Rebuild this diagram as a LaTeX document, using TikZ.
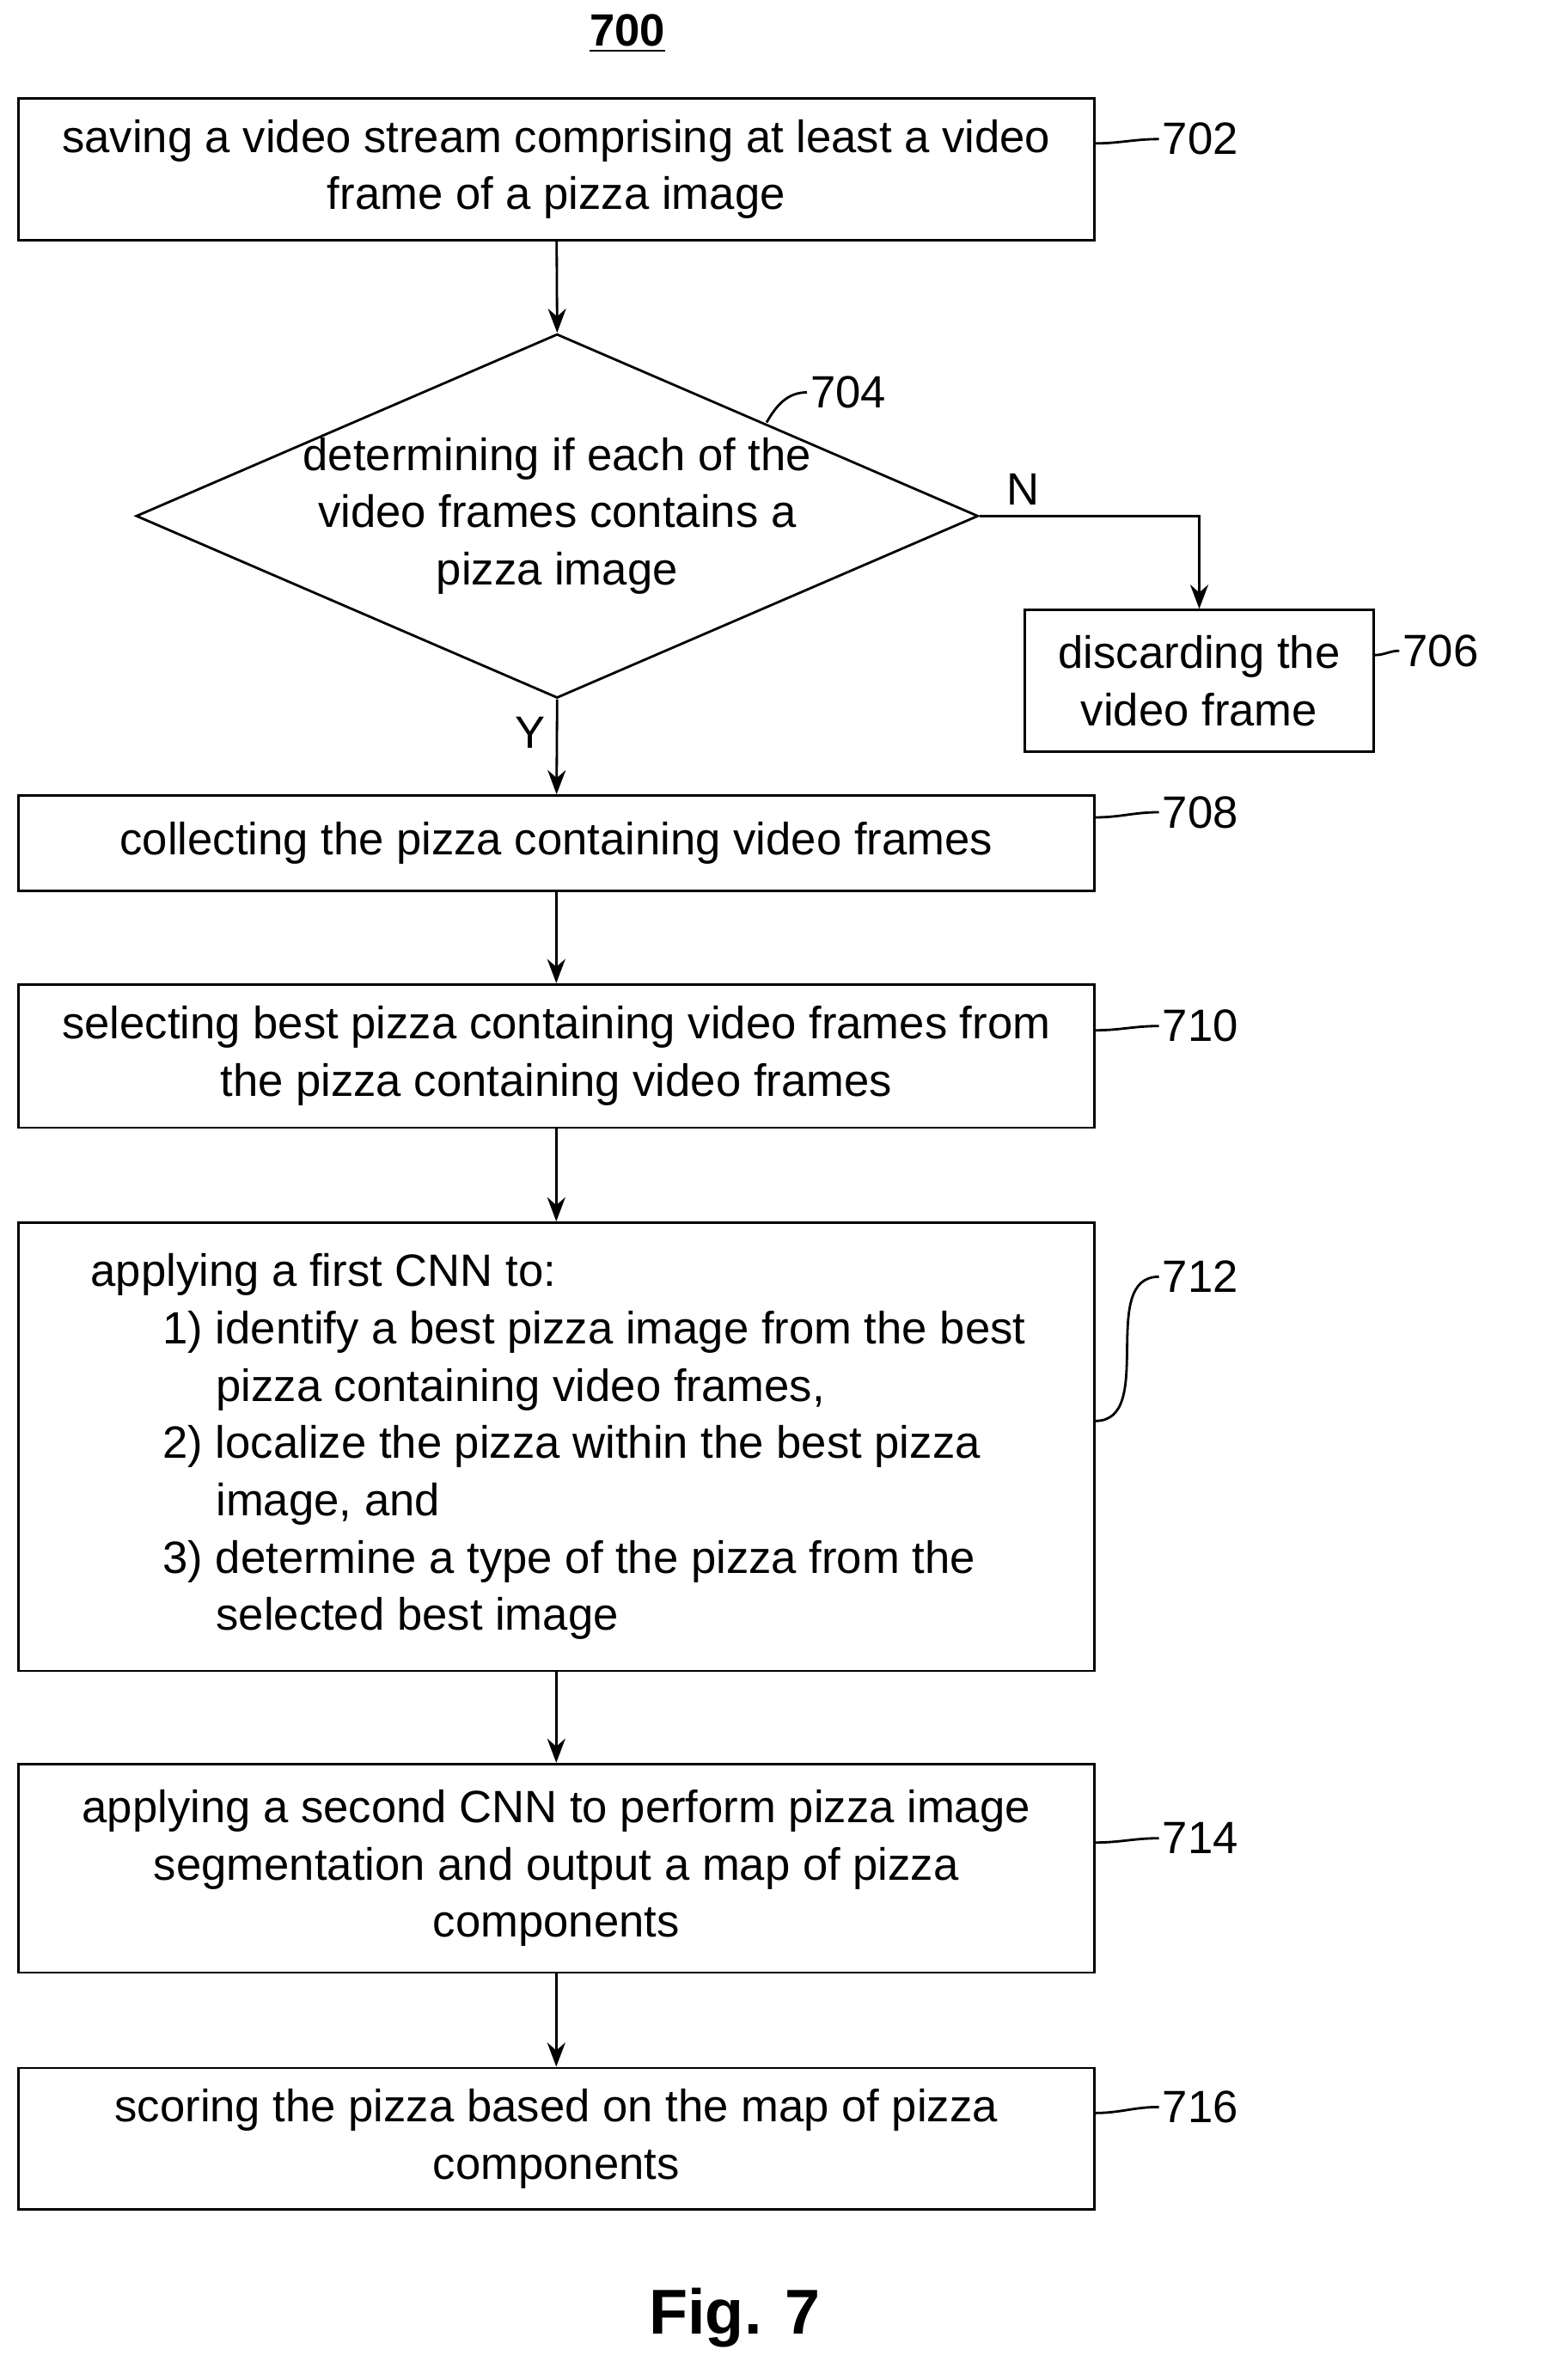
\documentclass[tikz,border=0pt]{standalone}
\usepackage{fontspec}
\setmainfont{Liberation Sans}
\usetikzlibrary{shapes.geometric}
\usetikzlibrary{arrows.meta}

\tikzset{
  stepbox/.style={draw, thick, minimum width=12.53cm, align=center, font=\fontsize{15}{19}\selectfont},
  flow/.style={thick, -{Stealth[length=8pt,width=6pt]}},
  lead/.style={thick},
  ref/.style={font=\fontsize{15}{19}\selectfont, anchor=west, inner sep=1pt}
}

\begin{document}
\begin{tikzpicture}
\useasboundingbox (0,0) rectangle (18.0,-27.72);
\node[font=\bfseries\fontsize{15}{19}\selectfont] (title) at (7.31,-0.39) {\underline{700}};

\node[stepbox, minimum height=1.65cm] (s702) at (6.48,-1.97) {saving a video stream comprising at least a video\\frame of a pizza image};
\node[draw, thick, diamond, minimum width=9.81cm, minimum height=4.24cm, inner sep=0] (s704) at (6.49,-6.01) {};
\node[align=center, font=\fontsize{15}{19}\selectfont] (t704) at (6.49,-6.01) {determining if each of the\\video frames contains a\\pizza image};
\node[stepbox, minimum width=4.06cm, minimum height=1.65cm] (s706) at (13.97,-7.93) {discarding the\\video frame};
\node[stepbox, minimum height=1.11cm] (s708) at (6.48,-9.82) {collecting the pizza containing video frames};
\node[stepbox, minimum height=1.67cm] (s710) at (6.48,-12.30) {selecting best pizza containing video frames from\\the pizza containing video frames};
\node[stepbox, minimum height=5.22cm] (s712) at (6.48,-16.85) {};
\node[anchor=west, align=left, font=\fontsize{15}{19}\selectfont, inner sep=0] (t712) at (1.05,-16.85) {applying a first CNN to:\\
\hspace*{0.84cm}1) identify a best pizza image from the best\\
\hspace*{1.46cm}pizza containing video frames,\\
\hspace*{0.84cm}2) localize the pizza within the best pizza\\
\hspace*{1.46cm}image, and\\
\hspace*{0.84cm}3) determine a type of the pizza from the\\
\hspace*{1.46cm}selected best image};
\node[stepbox, minimum height=2.43cm] (s714) at (6.48,-21.76) {applying a second CNN to perform pizza image\\segmentation and output a map of pizza\\components};
\node[stepbox, minimum height=1.65cm] (s716) at (6.48,-24.91) {scoring the pizza based on the map of pizza\\components};

% reference numerals
\node[ref] (r702) at (13.5,-1.62) {702};
\node[ref] (r704) at (9.4,-4.57) {704};
\node[ref] (r706) at (16.3,-7.58) {706};
\node[ref] (r708) at (13.5,-9.46) {708};
\node[ref] (r710) at (13.5,-11.95) {710};
\node[ref] (r712) at (13.5,-14.87) {712};
\node[ref] (r714) at (13.5,-21.41) {714};
\node[ref] (r716) at (13.5,-24.54) {716};
\foreach \b/\r in {s702/r702,s706/r706,s708/r708,s710/r710,s712/r712,s714/r714,s716/r716}
  \draw[lead] (\b.east) ++(0,0.3) to[out=0,in=180] (\r.west);
\coordinate (c704) at (8.93,-4.92);
\draw[lead] (c704) to[out=60,in=180] (r704.west);

% flow
\draw[flow] (s702) -- (s704.north);
\draw[flow] (s704.south) -- node[left, font=\fontsize{15}{19}\selectfont, pos=0.35] (ly) {Y} (s708);
\draw[flow] (s704.east) -| node[pos=0.1, above, font=\fontsize{15}{19}\selectfont] (ln) {N} (s706.north);
\draw[flow] (s708) -- (s710);
\draw[flow] (s710) -- (s712);
\draw[flow] (s712) -- (s714);
\draw[flow] (s714) -- (s716);

\node[font=\bfseries\fontsize{21}{25}\selectfont] (fig) at (8.56,-26.99) {Fig. 7};
\end{tikzpicture}
\end{document}
